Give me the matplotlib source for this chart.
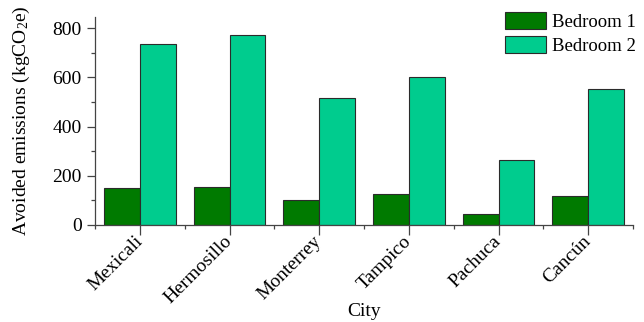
import matplotlib
matplotlib.use("Agg")
import matplotlib.pyplot as plt
import numpy as np

plt.rcParams['font.family'] = ['Liberation Serif', 'DejaVu Serif']
plt.rcParams['mathtext.fontset'] = 'custom'
plt.rcParams['mathtext.rm'] = 'Liberation Serif'
plt.rcParams['mathtext.it'] = 'Liberation Serif:italic'

cities = ["Mexicali", "Hermosillo", "Monterrey", "Tampico", "Pachuca", "Cancún"]
bedroom1 = [148, 153, 102, 125, 42, 117]
bedroom2 = [735, 771, 517, 603, 264, 551]
series_labels = ["Bedroom 1", "Bedroom 2"]
yticks = [0, 200, 400, 600, 800]

dark_green = "#007a00"
light_green = "#00cc8e"
edge = "#2b2b2b"
axis_col = "#444444"

fig = plt.figure(figsize=(6.44, 3.22), dpi=100)
ax = fig.add_axes([0.1475, 0.302, 0.8355, 0.646])

x = np.arange(len(cities))
w = 0.4
ax.bar(x - w / 2, bedroom1, w, color=dark_green, edgecolor=edge, linewidth=0.8, label=series_labels[0])
ax.bar(x + w / 2, bedroom2, w, color=light_green, edgecolor=edge, linewidth=0.8, label=series_labels[1])

ax.set_xlim(-0.5, len(cities) - 0.5)
ax.set_ylim(0, 847)
ax.set_yticks(yticks)
ax.set_yticks([100, 300, 500, 700], minor=True)
ax.set_xticks(x)
ax.set_xticks(np.arange(-0.5, len(cities), 1.0), minor=True)
ax.set_xticklabels(cities, rotation=45, ha='right', va='center', rotation_mode='anchor', fontsize=14)
ax.tick_params(axis='y', labelsize=14)

for s in ['top', 'right']:
    ax.spines[s].set_visible(False)
for s in ['left', 'bottom']:
    ax.spines[s].set_color(axis_col)
    ax.spines[s].set_linewidth(0.9)

ax.tick_params(axis='both', which='major', direction='out', length=6, width=0.9, color=axis_col)
ax.tick_params(axis='both', which='minor', direction='out', length=3, width=0.9, color=axis_col)
ax.tick_params(axis='x', which='major', length=7, pad=3)

ax.set_ylabel("Avoided emissions (kgCO$_2$e)", fontsize=14)
ax.yaxis.set_label_coords(-0.117, 0.5)
ax.set_xlabel("City", fontsize=14)
ax.xaxis.set_label_coords(0.5, -0.375)

ax.legend(loc='upper left', bbox_to_anchor=(505 / 644, 1 - 12 / 322), bbox_transform=fig.transFigure,
          frameon=False, fontsize=13.5, handlelength=2.2, handleheight=1.05, labelspacing=0.25,
          handletextpad=0.3, borderpad=0, borderaxespad=0)

fig.savefig("out.png", dpi=100)
